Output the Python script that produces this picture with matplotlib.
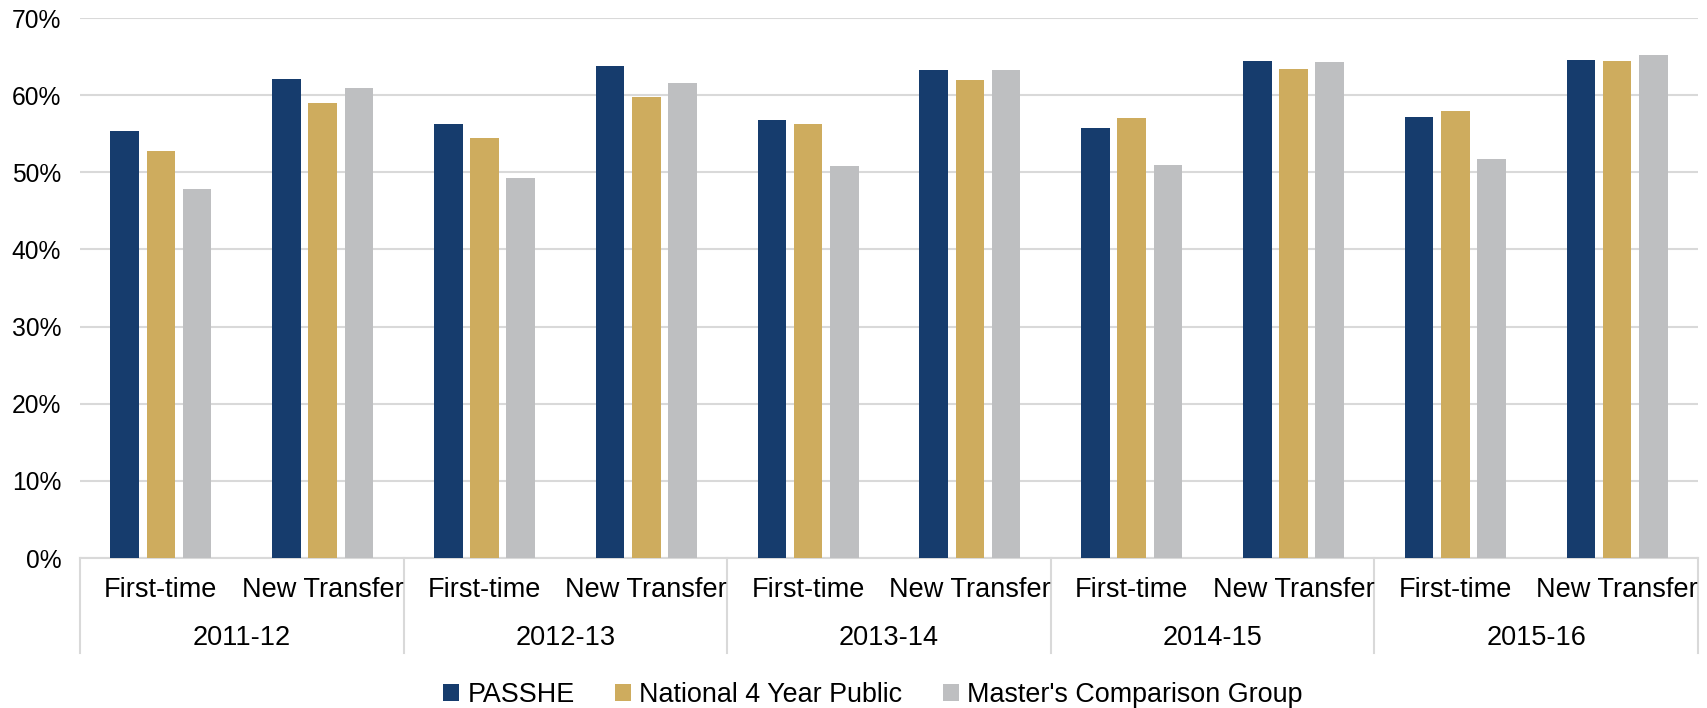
import numpy as np
import matplotlib
matplotlib.use("Agg")
import matplotlib.pyplot as plt
from matplotlib.patches import Patch

plt.rcParams['font.family'] = ['Liberation Sans', 'DejaVu Sans']

years = ["2011-12", "2012-13", "2013-14", "2014-15", "2015-16"]
cohorts = ["First-time", "New Transfer"]
series_names = ["PASSHE", "National 4 Year Public", "Master's Comparison Group"]

# Values per category: year x cohort, flattened (FT, NT, FT, NT, ...)
passhe   = [55.3, 62.1, 56.3, 63.8, 56.8, 63.3, 55.7, 64.4, 57.2, 64.6]
national = [52.8, 59.0, 54.5, 59.8, 56.3, 62.0, 57.1, 63.4, 58.0, 64.4]
masters  = [47.8, 60.9, 49.2, 61.6, 50.8, 63.3, 51.0, 64.3, 51.7, 65.2]

colors = ["#163C6D", "#CEAC5E", "#BEBFC1"]
series = [passhe, national, masters]

W, H = 1707, 708
fig = plt.figure(figsize=(W / 100, H / 100), dpi=100)
ax = fig.add_axes([80 / W, 1 - 558 / H, (1698 - 80) / W, (558 - 18) / H])

n = len(passhe)
x = np.arange(n)
bar_w = 0.177
step = 0.224
for i, (vals, c) in enumerate(zip(series, colors)):
    ax.bar(x + (i - 1) * step, vals, width=bar_w, color=c, zorder=3)

ax.set_xlim(-0.5, n - 0.5)
ax.set_ylim(0, 70)
ax.set_yticks(np.arange(0, 71, 10))
ax.set_yticklabels([f"{v}%" for v in range(0, 71, 10)], fontsize=17.7)
ax.tick_params(axis='y', length=0, pad=13.5)
ax.set_xticks([])
ax.yaxis.grid(True, color="#D9D9D9", linewidth=1.5, zorder=0)
for s in ["top", "right", "left"]:
    ax.spines[s].set_visible(False)
ax.spines["bottom"].set_color("#D9D9D9")
ax.spines["bottom"].set_linewidth(1.5)

trans = ax.get_xaxis_transform()
label_y = -(590 - 558) / 540
year_y = -(638 - 558) / 540
sep_bottom = -(653 - 558) / 540

# cohort labels under each category
for k in range(n):
    ax.text(x[k], label_y, cohorts[k % 2], transform=trans, ha='center',
            va='center', fontsize=19.5)

# year labels and separators between year groups
for j, yr in enumerate(years):
    ax.text(2 * j + 0.5, year_y, yr, transform=trans, ha='center',
            va='center', fontsize=19.5)
for b in range(len(years) + 1):
    xb = 2 * b - 0.5
    ax.plot([xb, xb], [0, sep_bottom], transform=trans, color="#D9D9D9",
            linewidth=1.5, clip_on=False)

handles = [Patch(facecolor=c, label=nm) for c, nm in zip(colors, series_names)]
fig.legend(handles=handles, loc='center', bbox_to_anchor=(873 / W, 1 - 695 / H),
           ncol=3, frameon=False, fontsize=19.4, handlelength=0.6,
           handleheight=0.6, handletextpad=0.3, columnspacing=1.5)

fig.savefig("out.png", dpi=100)
